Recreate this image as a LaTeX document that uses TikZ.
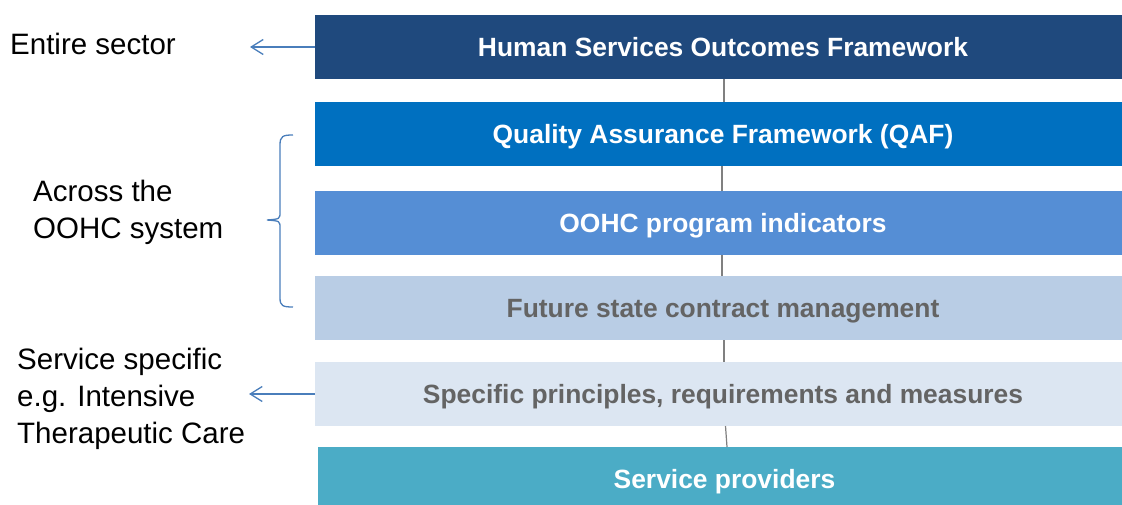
\documentclass[tikz,border=0pt]{standalone}
\usepackage{fontspec}
\setmainfont{Liberation Sans}
\usetikzlibrary{arrows.meta}
\definecolor{hsofblue}{RGB}{31,73,125}
\definecolor{qafblue}{RGB}{0,112,192}
\definecolor{oohcblue}{RGB}{85,142,213}
\definecolor{futureblue}{RGB}{185,205,229}
\definecolor{specificblue}{RGB}{220,230,242}
\definecolor{providerteal}{RGB}{75,172,198}
\definecolor{labelgray}{RGB}{100,100,100}
\definecolor{linkgray}{RGB}{128,128,128}
\definecolor{pointerblue}{RGB}{74,126,187}

\begin{document}
\begin{tikzpicture}[x=1pt,y=-1pt,
    layer/.style={inner sep=0pt, outer sep=0pt, minimum width=807pt, minimum height=64pt,
      text height=19pt, text depth=0pt, execute at begin node={\hspace*{9pt}},
      font=\fontsize{26.4}{30}\selectfont\bfseries, text=white},
    link/.style={draw=linkgray, line width=1.2pt},
    pointer/.style={draw=pointerblue, line width=1.3pt,
      -{Straight Barb[length=12pt,width=15pt]}},
    brace/.style={draw=pointerblue, line width=1.3pt},
    side/.style={anchor=base west, inner sep=0pt, align=left,
      font=\fontsize{29.5}{37}\selectfont}]
    \useasboundingbox (0,0) rectangle (1122,505);

    % the stacked layers
    \node [layer, fill=hsofblue] (hsof) at (718.5,47) {Human Services Outcomes Framework};
    \node [layer, fill=qafblue] (qaf) at (718.5,134) {Quality Assurance Framework (QAF)};
    \node [layer, fill=oohcblue] (oohc) at (718.5,223.5) {OOHC program indicators};
    \node [layer, fill=futureblue, text=labelgray] (future) at (718.5,308) {Future state contract management};
    \node [layer, fill=specificblue, text=labelgray] (specific) at (718.5,394) {Specific principles, requirements and measures};
    \node [layer, fill=providerteal, minimum width=804pt] (providers) at (720,479) {Service providers};

    \draw [link] ([xshift=5.5pt]hsof.south) -- ([xshift=5.5pt]qaf.north);
    \draw [link] ([xshift=3.5pt]qaf.south) -- ([xshift=3.5pt]oohc.north);
    \draw [link] ([xshift=3.5pt]oohc.south) -- ([xshift=3.5pt]future.north);
    \draw [link] ([xshift=5.5pt]future.south) -- ([xshift=5.5pt]specific.north);
    \draw [link] ([xshift=7pt]specific.south) -- ([xshift=7pt]providers.north);

    % labels on the left
    \node [side] (sector) at (10,55) {Entire sector};
    \node [side] (across) at (33,239) {Across the\\OOHC system};
    \node [side] (service) at (17,443) {Service specific\\e.g. Intensive\\Therapeutic Care};

    \coordinate (sectortip) at (250,47);
    \coordinate (servicetip) at (249,394);
    \draw [pointer] (hsof.west) -- (sectortip);
    \draw [pointer] (specific.west) -- (servicetip);

    \draw [brace] (293,135) .. controls (283,135) and (280,136) .. (280,145) -- (280,212)
      .. controls (280,219) .. (267,220) .. controls (280,221) .. (280,228) -- (280,298)
      .. controls (280,306) and (283,307) .. (293,307);
\end{tikzpicture}
\end{document}
